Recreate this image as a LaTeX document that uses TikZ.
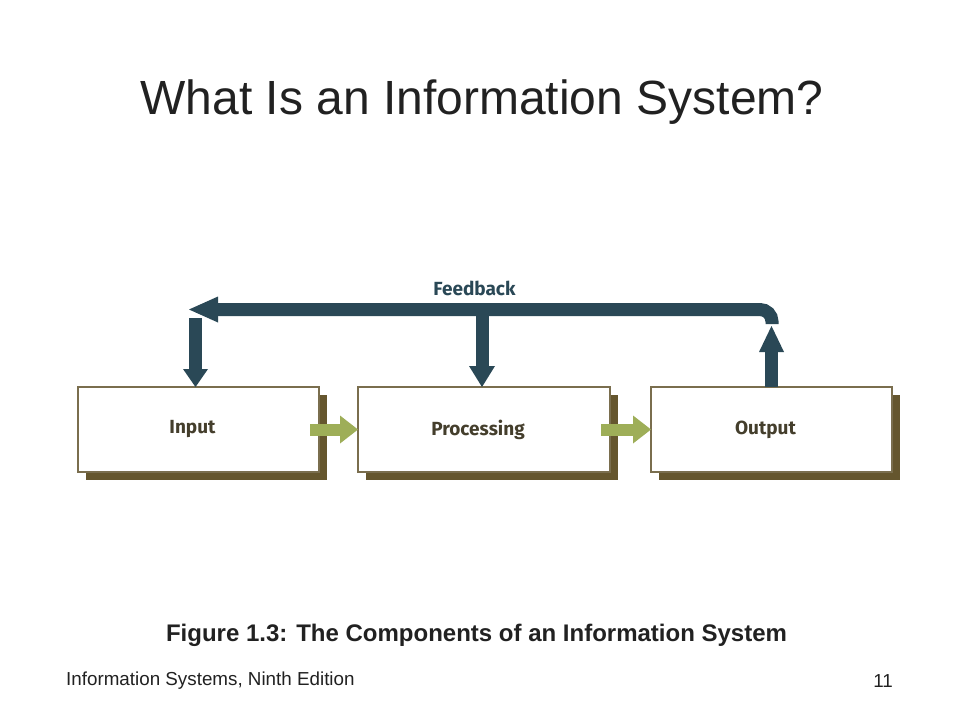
\documentclass[tikz,border=0pt]{standalone}
\usepackage{fontspec}
\setmainfont{Liberation Sans}
\newfontfamily\diagfont{Fira Sans}
\usetikzlibrary{arrows.meta,shadows,positioning}
\definecolor{fbblue}{RGB}{42,72,86}
\definecolor{flowgreen}{RGB}{158,174,88}
\definecolor{boxline}{RGB}{122,110,78}
\definecolor{boxshadow}{RGB}{101,86,46}
\definecolor{boxtext}{RGB}{68,62,44}
\definecolor{slidetext}{RGB}{33,33,33}

\begin{document}
\begin{tikzpicture}[x=1pt, y=-1pt,
    box/.style={draw=boxline, line width=1.5pt, fill=white, minimum height=85pt,
      inner sep=0pt, outer sep=0pt,
      drop shadow={shadow xshift=8pt, shadow yshift=-8pt, fill=boxshadow, opacity=1}},
    boxlabel/.style={label={[text=boxtext, xshift=-6pt,
      font=\diagfont\bfseries\fontsize{19}{22}\selectfont]center:#1}},
    flow/.style={draw=flowgreen, line width=12pt,
      -{Triangle[width=28pt,length=18pt,line width=0pt]}},
    fbarrow/.style={draw=fbblue, line width=13pt,
      -{Triangle[width=26pt,length=21pt,line width=0pt]}},
    slide/.style={text=slidetext, inner sep=0pt}]
    % Page
    \fill[white] (0,0) rectangle (960,720);
    \useasboundingbox (0,0) rectangle (960,720);
    % Title
    \node[slide, font=\fontsize{48}{56}\selectfont] (title) at (482,102)
      {What Is an Information System?};
    % Components
    \node[box, boxlabel=Input, minimum width=241pt] (in) at (198.5,429.5) {};
    \node[box, boxlabel=Processing, minimum width=252pt, right=39pt of in] (proc) {};
    \node[box, boxlabel=Output, minimum width=241pt, right=41pt of proc] (out) {};
    % Flow between components
    \draw[flow] ([xshift=-9pt]in.east) -- (proc.west);
    \draw[flow] ([xshift=-9pt]proc.east) -- (out.west);
    % Feedback loop
    \coordinate (outTip) at (771.5,326);
    \coordinate (fbR) at (772,324);
    \coordinate (fbL) at (189,309.5);
    \coordinate (fbIn) at (195.5,318);
    \coordinate (fbProc) at (482,316);
    \draw[fbarrow, -{Triangle[width=25pt,length=26pt,line width=0pt]}]
      (out.north) -- (outTip);
    \draw[fbarrow, -{Triangle[width=26pt,length=29pt,line width=0pt]},
      rounded corners=12pt] (fbR) |- (fbL);
    \draw[fbarrow, -{Triangle[width=25pt,length=18pt,line width=0pt]}]
      (fbIn) -- (fbIn |- in.north);
    \draw[fbarrow] (fbProc) -- (fbProc |- proc.north);
    \node[text=fbblue, font=\diagfont\bfseries\fontsize{19}{22}\selectfont]
      (fbtext) at (474.5,288.5) {Feedback};
    % Caption and footer
    \node[slide, font=\bfseries\fontsize{24}{28}\selectfont] (caption)
      at (476.5,635.5) {Figure 1.3: The Components of an Information System};
    \node[slide, anchor=west, font=\fontsize{18.8}{22}\selectfont] (footer)
      at (66,681) {Information Systems, Ninth Edition};
    \node[slide, anchor=east, font=\fontsize{18.8}{22}\selectfont] (page)
      at (893,681) {11};
\end{tikzpicture}
\end{document}
